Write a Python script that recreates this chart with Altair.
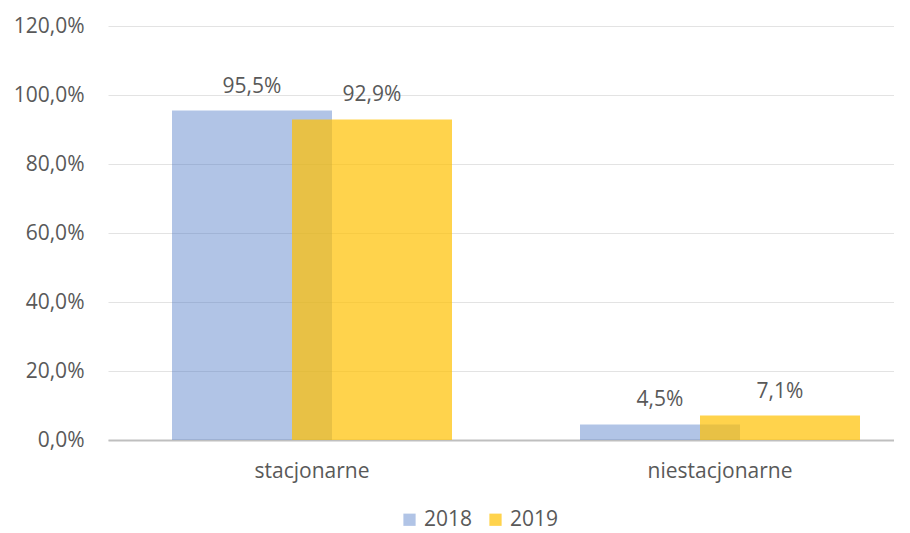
import altair as alt
import pandas as pd

categories = ["stacjonarne", "niestacjonarne"]
years = ["2018", "2019"]
values_2018 = [95.5, 4.5]
values_2019 = [92.9, 7.1]
y_ticks = [0, 20, 40, 60, 80, 100, 120]

rows = []
for c, v in zip(categories, values_2018):
    rows.append({"kategoria": c, "rok": "2018", "wartosc": v})
for c, v in zip(categories, values_2019):
    rows.append({"kategoria": c, "rok": "2019", "wartosc": v})
df = pd.DataFrame(rows)

FONT = "Open Sans"
GRAY = "#595959"
FS = 21

x_enc = alt.X(
    "kategoria:N",
    sort=categories,
    scale=alt.Scale(range=[0, 816], paddingInner=0, paddingOuter=0),
    axis=alt.Axis(
        title=None, labelAngle=0, labelFontSize=FS, labelColor=GRAY, labelFont=FONT,
        ticks=False, domainColor="#bfbfbf", domainWidth=2, labelPadding=20, grid=False,
    ),
)
y_enc = alt.Y(
    "wartosc:Q",
    scale=alt.Scale(domain=[0, 120], nice=False),
    axis=alt.Axis(
        values=y_ticks, title=None, domain=False, ticks=False,
        labelExpr="replace(format(datum.value, '.1f'), '.', ',') + '%'",
        labelFontSize=FS, labelColor=GRAY, labelFont=FONT, labelPadding=24,
        gridColor="#e3e3e3", gridWidth=1,
    ),
)
color_enc = alt.Color(
    "rok:N",
    scale=alt.Scale(domain=years, range=["#4472C4", "#FFC000"]),
    legend=alt.Legend(
        title=None, orient="none", direction="horizontal", legendX=291, legendY=483,
        symbolType="square", symbolSize=150, symbolStrokeWidth=0,
        labelFontSize=FS, labelColor=GRAY, labelFont=FONT, columnPadding=12, labelOffset=4,
    ),
)
opacity_enc = alt.Opacity(
    "rok:N", scale=alt.Scale(domain=years, range=[0.42, 0.7]), legend=None
)

base = alt.Chart(df).transform_calculate(
    label="replace(format(datum.wartosc, '.1f'), '.', ',') + '%'"
)

bars18 = base.transform_filter("datum.rok == '2018'").mark_bar(width=160, xOffset=-60).encode(
    x=x_enc, y=y_enc, color=color_enc, opacity=opacity_enc
)
bars19 = base.transform_filter("datum.rok == '2019'").mark_bar(width=160, xOffset=60).encode(
    x=x_enc, y=y_enc, color=color_enc, opacity=opacity_enc
)
text18 = base.transform_filter("datum.rok == '2018'").mark_text(
    xOffset=-60, dy=-18, baseline="alphabetic", fontSize=FS, font=FONT, color=GRAY
).encode(x=x_enc, y=y_enc, text="label:N")
text19 = base.transform_filter("datum.rok == '2019'").mark_text(
    xOffset=60, dy=-18, baseline="alphabetic", fontSize=FS, font=FONT, color=GRAY
).encode(x=x_enc, y=y_enc, text="label:N")

chart = alt.layer(bars18, bars19, text18, text19).properties(
    width=786, height=414,
    autosize=alt.AutoSizeParams(type="none"),
    padding={"left": 100, "top": 18, "right": 0, "bottom": 93},
    background="white",
).configure_view(stroke=None)

chart.save("out.html", embed_options={"renderer": "svg", "actions": False})
